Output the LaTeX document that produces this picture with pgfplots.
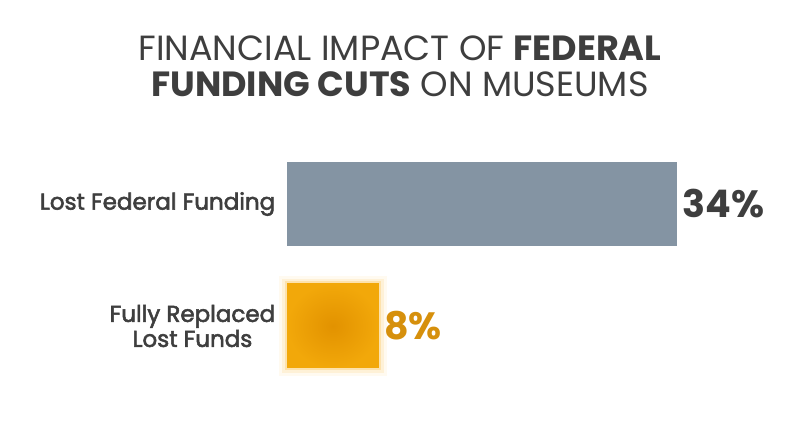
\documentclass[border=0pt]{standalone}
\usepackage{fontspec}
\setmainfont{Poppins}
\newfontfamily\medfont{Poppins}[FakeBold=2.4]
\usepackage{pgfplots}
\pgfplotsset{compat=1.18}
\definecolor{barblue}{RGB}{132,148,163}
\definecolor{orin}{RGB}{226,146,0}
\definecolor{orout}{RGB}{242,168,10}
\definecolor{glow}{RGB}{250,190,70}
\definecolor{valorange}{RGB}{214,144,12}
\definecolor{txt}{RGB}{62,62,62}
\begin{document}
\begin{tikzpicture}[x=1pt,y=1pt]
\path[use as bounding box] (0,0) rectangle (800,447);
\node[font=\fontsize{35}{36}\selectfont, text=txt, align=center] at (400,381) {FINANCIAL IMPACT OF \textbf{FEDERAL}\\\textbf{FUNDING CUTS} ON MUSEUMS};
\begin{axis}[at={(287pt,60pt)}, anchor=south west, scale only axis,
  width=390pt, height=244pt, xmin=0, xmax=34, ymin=-0.5, ymax=1.5,
  axis line style={draw=none}, tick style={draw=none},
  xtick=\empty, ytick={0,1},
  yticklabels={{Fully Replaced\\Lost Funds},{Lost Federal Funding}},
  yticklabel style={align=center, font=\medfont\fontsize{23}{25}\selectfont, text=txt, xshift=-4pt},
  /pgf/number format/assume math mode=true,
  clip=false,
  xbar, bar width=84pt, bar shift=0pt,
  point meta=x,
  nodes near coords={\pgfmathprintnumber{\pgfplotspointmeta}\%},
  every node near coord/.append style={anchor=west, font=\bfseries\fontsize{38}{40}\selectfont, xshift=2pt},
]
\addplot[draw=none, fill=barblue, every node near coord/.append style={text=txt}] coordinates {(34,1)};
\addplot[draw=glow, line width=16pt, opacity=0.08, fill=none, nodes near coords={}] coordinates {(8,0)};
\addplot[draw=glow, line width=10pt, opacity=0.15, fill=none, nodes near coords={}] coordinates {(8,0)};
\addplot[draw=glow, line width=5pt, opacity=0.3, fill=none, nodes near coords={}] coordinates {(8,0)};
\addplot[draw=none, inner color=orin, outer color=orout, every node near coord/.append style={text=valorange}] coordinates {(8,0)};
\end{axis}
\end{tikzpicture}
\end{document}
